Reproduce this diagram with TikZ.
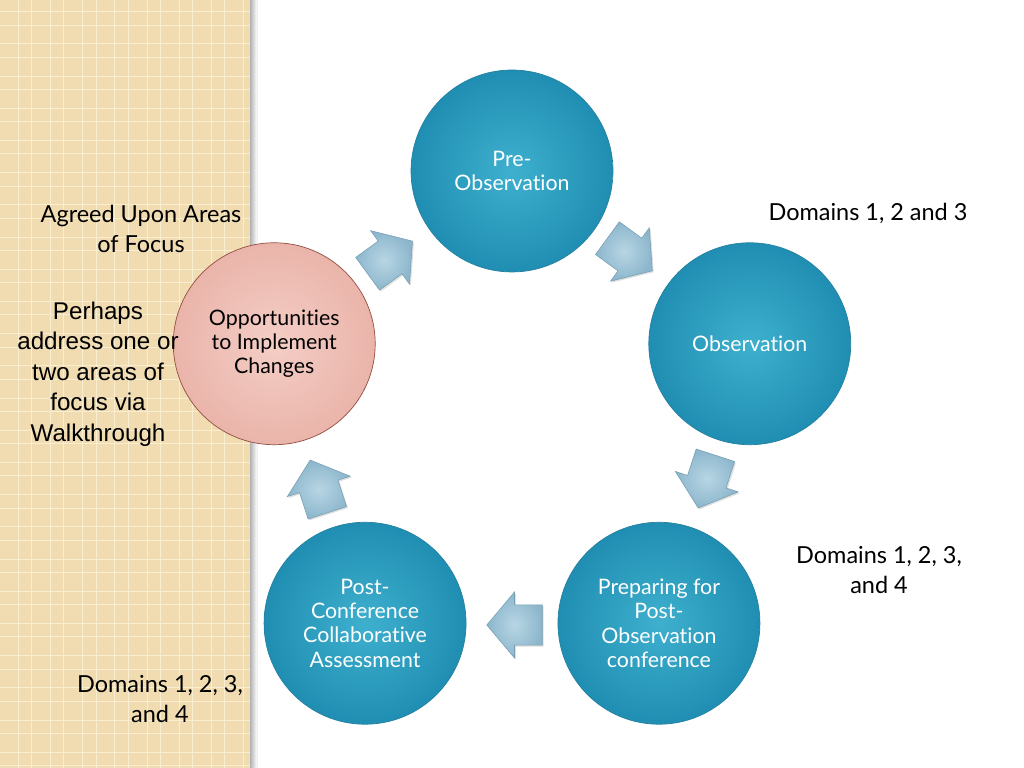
\documentclass[tikz,border=0pt]{standalone}
\usepackage{fontspec}
\setmainfont{Lato}[Ligatures=NoCommon]
\newfontfamily\arialfont{Liberation Sans}
\usetikzlibrary{shapes.arrows,shadows,calc}
\definecolor{stagelight}{RGB}{62,176,206}
\definecolor{stagedark}{RGB}{32,142,178}
\definecolor{stagerim}{RGB}{36,130,160}
\definecolor{opplight}{RGB}{244,206,198}
\definecolor{oppdark}{RGB}{234,180,170}
\definecolor{opprim}{RGB}{150,80,66}
\definecolor{flowlight}{RGB}{184,214,228}
\definecolor{flowdark}{RGB}{140,182,204}
\definecolor{flowrim}{RGB}{120,160,180}
\definecolor{panelbeige}{RGB}{240,220,176}
\definecolor{panelline}{RGB}{250,238,208}
\begin{document}
\begin{tikzpicture}[x=0.703125pt,y=0.703125pt,
    stage/.style={circle,draw=stagerim,line width=0.5pt,inner color=stagelight,
      outer color=stagedark,minimum size=142pt,inner sep=0pt,text=white,align=center,
      font=\fontsize{15}{17}\selectfont},
    opp/.style={stage,draw=opprim,inner color=opplight,outer color=oppdark,text=black},
    flow/.style={single arrow,draw=flowrim,line width=0.4pt,inner color=flowlight,
      outer color=flowdark,minimum height=39pt,minimum width=46pt,inner xsep=0pt,inner ysep=14pt,
      single arrow head extend=9pt,single arrow head indent=0pt,single arrow tip angle=100,
      drop shadow={opacity=0.25,shadow xshift=1pt,shadow yshift=-1pt}},
    note/.style={align=center,font=\fontsize{16.5}{21.6}\selectfont}]
  \useasboundingbox (0,0) rectangle (1024,768);
  \fill[white] (0,0) rectangle (1024,768);
  \fill[panelbeige] (0,0) rectangle (250,768);
  \foreach \k in {0,...,7} {
    \draw[panelline,line width=0.6pt] (18.3+32.2*\k,0) -- (18.3+32.2*\k,768);
    \draw[panelline,line width=0.6pt] (31.7+32.2*\k,0) -- (31.7+32.2*\k,768);
  }
  \foreach \k in {0,...,23} {
    \draw[panelline,line width=0.6pt] (0,756.3-32.2*\k) -- (250,756.3-32.2*\k);
    \draw[panelline,line width=0.6pt] (0,743-32.2*\k) -- (250,743-32.2*\k);
  }
  \shade[left color=black!30,right color=white] (250,0) rectangle (257,768);
  \begin{scope}[shift={(512,347)}]
    \path
      (90:250) node[stage] (pre) {Pre-\\Observation}
      (18:250) node[stage] (obs) {Observation}
      (-54:250) node[stage] (prep) {Preparing for\\Post-\\Observation\\conference}
      (-126:250) node[stage] (post) {Post-\\Conference\\Collaborative\\Assessment}
      (162:250) node[opp] (chg) {Opportunities\\to Implement\\Changes};
    \foreach \a/\n in {54/preobs,-18/obsprep,-90/preppost,-162/postchg,126/chgpre}
      \node[flow,rotate=\a-90] (\n) at ($(\a:204)+(\a+90:11)$) {};
  \end{scope}
  \node[note] (agreed) at (141,539) {Agreed Upon Areas\\of Focus};
  \node[note,font=\arialfont\fontsize{17}{21.5}\selectfont] (perhaps) at (98,394)
    {Perhaps\\address one or\\two areas of\\focus via\\Walkthrough};
  \node[note] (domtop) at (868,555) {Domains 1, 2 and 3};
  \node[note] (domright) at (879,198) {Domains 1, 2, 3,\\and 4};
  \node[note] (domleft) at (160,69) {Domains 1, 2, 3,\\and 4};
\end{tikzpicture}
\end{document}
